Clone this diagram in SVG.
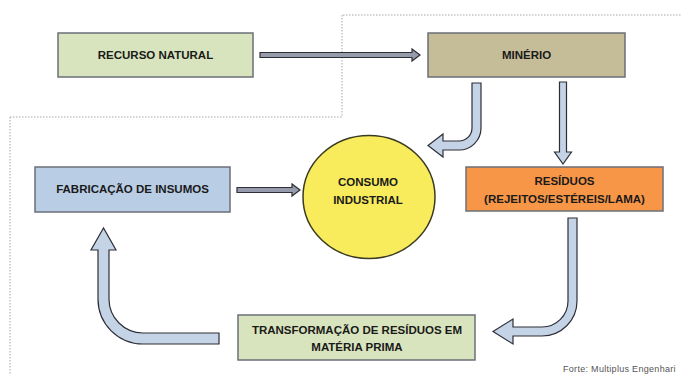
<svg xmlns="http://www.w3.org/2000/svg" width="682" height="374" viewBox="0 0 682 374">
<style>
.box{stroke:#6b6f78;stroke-width:1.5}
.lbl{font-family:"Liberation Sans",Arial,sans-serif;font-weight:bold;font-size:11.5px;fill:#1a1a1a;text-anchor:middle;dominant-baseline:central}
.arrS{fill:#959bab;stroke:#2e2f36;stroke-width:1.2;stroke-linejoin:miter}
.arrC{fill:#c5d3e7;stroke:#2e2f36;stroke-width:1.2;stroke-linejoin:miter}
.dot{fill:none;stroke:#a8a8a8;stroke-width:1;stroke-dasharray:1.5 1.5}
</style>
<rect width="682" height="374" fill="#ffffff"/>
<g id="frame">
<path class="dot" d="M343,15 H682 M342,15 V117 M10,117 H342 M10,117 V374"/>
</g>
<g id="connectors">
<path class="arrS" d="M260,52.5 H412 V49 L420,55 L412,61 V57.5 H260 Z"/>
<path class="arrS" d="M237,187.5 H292 V184 L300,190 L292,196 V192.5 H237 Z"/>
<path class="arrC" d="M559.5,82 V152 H554.5 L563,164 L571.5,152 H566.5 V82 Z"/>
<path class="arrC" d="M472,83 H481 V128 A22,22 0 0 1 459,150 H443 V157 L428,145.5 L443,134 V141 H459 A13,13 0 0 0 472,128 Z"/>
<path class="arrC" d="M568,218 H577 V301 A35,35 0 0 1 542,336 H513 V344 L493,331.5 L513,319 V327 H542 A26,26 0 0 0 568,301 Z"/>
<path class="arrC" d="M219,333 V344 H143 A45,45 0 0 1 98,299 V250 H91 L103.5,228 L116,250 H109 V299 A34,34 0 0 0 143,333 Z"/>
</g>
<g id="recurso">
<rect class="box" x="58" y="33" width="195" height="44" fill="#d8e4bd"/>
<text class="lbl" x="155.5" y="55">RECURSO NATURAL</text>
</g>
<g id="minerio">
<rect class="box" x="428" y="33" width="197" height="44" fill="#c4bd97"/>
<text class="lbl" x="526.5" y="55">MINÉRIO</text>
</g>
<g id="consumo">
<ellipse cx="369" cy="197" rx="66" ry="61.5" fill="#f8ec5c" stroke="#3b3a22" stroke-width="1.5"/>
<text class="lbl" x="368" y="182">CONSUMO</text>
<text class="lbl" x="368" y="200">INDUSTRIAL</text>
</g>
<g id="fabricacao">
<rect class="box" x="35" y="167" width="195" height="45" fill="#b9cde5"/>
<text class="lbl" x="132.5" y="189">FABRICAÇÃO DE INSUMOS</text>
</g>
<g id="residuos">
<rect class="box" x="466" y="167" width="197" height="44" fill="#f79646"/>
<text class="lbl" x="564.5" y="181">RESÍDUOS</text>
<text class="lbl" x="564.5" y="199">(REJEITOS/ESTÉREIS/LAMA)</text>
</g>
<g id="transformacao">
<rect class="box" x="238" y="315" width="237" height="45" fill="#d8e4bd"/>
<text class="lbl" x="357" y="330">TRANSFORMAÇÃO DE RESÍDUOS EM</text>
<text class="lbl" x="357" y="347">MATÉRIA PRIMA</text>
</g>
<g id="fonte">
<text x="563" y="372" font-family="Liberation Sans, Arial, sans-serif" font-size="9" letter-spacing="0.3" fill="#555555">Forte: Multiplus Engenhari</text>
</g>
</svg>
